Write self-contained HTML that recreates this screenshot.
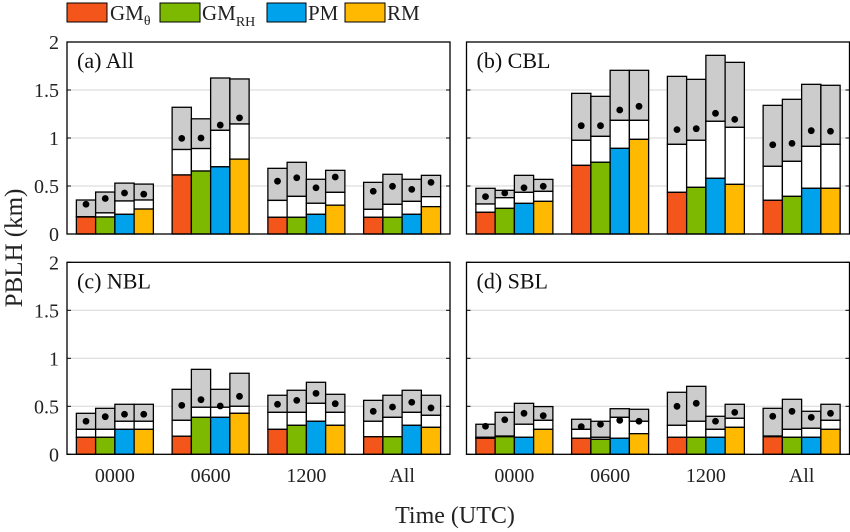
<!DOCTYPE html>
<html><head><meta charset="utf-8">
<style>
html,body{margin:0;padding:0;background:#fff;}
svg{display:block;font-family:"Liberation Serif",serif;}
</style></head>
<body>
<svg id="chart" width="850" height="532" viewBox="0 0 850 532" xmlns="http://www.w3.org/2000/svg">
  <g id="legend">
    <g>
      <rect x="67" y="3" width="40" height="19" fill="#F4551A" stroke="#000" stroke-width="1"/>
      <text x="110" y="20" font-size="21" fill="#222">GM<tspan font-size="14" dy="5">θ</tspan></text>
    </g>
    <g>
      <rect x="160" y="3" width="40" height="19" fill="#7DB900" stroke="#000" stroke-width="1"/>
      <text x="202" y="20" font-size="21" fill="#222">GM<tspan font-size="14" dy="6">RH</tspan></text>
    </g>
    <g>
      <rect x="267" y="3" width="39" height="19" fill="#00A2EC" stroke="#000" stroke-width="1"/>
      <text x="308" y="20" font-size="21" fill="#222">PM</text>
    </g>
    <g>
      <rect x="345" y="3" width="40" height="19" fill="#FFB900" stroke="#000" stroke-width="1"/>
      <text x="387" y="20" font-size="21" fill="#222">RM</text>
    </g>
  </g>
  <text transform="translate(22,248) rotate(-90)" text-anchor="middle" font-size="25" fill="#222">PBLH (km)</text>
  <text x="455" y="523" text-anchor="middle" font-size="24" fill="#222">Time (UTC)</text>
  <g id="panels"></g>
</svg>
<script>
// categories
const groups = ["0000", "0600", "1200", "All"];
const methods = ["GMθ", "GMRH", "PM", "RM"];
const yTicks = [0, 0.5, 1, 1.5, 2];
const yTickLabels = ["0", "0.5", "1", "1.5", "2"];
const panelTitles = ["(a) All", "(b) CBL", "(c) NBL", "(d) SBL"];

// (a) All — order: group-major, 4 methods per group
const aLow  = [0.177,0.177,0.205,0.26, 0.615,0.656,0.70,0.78, 0.174,0.174,0.205,0.30, 0.174,0.174,0.205,0.285];
const aMid  = [0.18,0.22,0.344,0.354, 0.88,0.89,1.08,1.146, 0.35,0.392,0.32,0.434, 0.257,0.309,0.34,0.389];
const aHigh = [0.354,0.437,0.53,0.52, 1.32,1.20,1.625,1.615, 0.684,0.747,0.57,0.663, 0.538,0.622,0.57,0.611];
const aMean = [0.31,0.37,0.427,0.415, 0.996,1.0,1.135,1.21, 0.55,0.586,0.482,0.594, 0.445,0.497,0.465,0.538];
// (b) CBL
const bLow  = [0.226,0.267,0.319,0.34, 0.715,0.747,0.892,0.986, 0.434,0.486,0.58,0.517, 0.351,0.392,0.476,0.476];
const bMid  = [0.3125,0.378,0.434,0.444, 0.976,1.017,1.184,1.184, 0.934,0.976,1.174,1.111, 0.705,0.757,0.913,0.934];
const bHigh = [0.476,0.455,0.611,0.569, 1.465,1.434,1.705,1.705, 1.642,1.611,1.861,1.788, 1.34,1.403,1.559,1.549];
const bMean = [0.389,0.427,0.482,0.497, 1.128,1.128,1.292,1.33, 1.087,1.097,1.257,1.194, 0.93,0.944,1.076,1.07];
// (c) NBL
const cLow  = [0.177,0.177,0.26,0.26, 0.188,0.385,0.385,0.427, 0.26,0.302,0.344,0.302, 0.183,0.183,0.302,0.281];
const cMid  = [0.26,0.26,0.344,0.344, 0.354,0.49,0.49,0.50, 0.437,0.437,0.531,0.437, 0.344,0.385,0.437,0.406];
const cHigh = [0.427,0.479,0.521,0.521, 0.677,0.885,0.677,0.844, 0.615,0.667,0.75,0.625, 0.562,0.615,0.667,0.615];
const cMean = [0.344,0.392,0.417,0.417, 0.51,0.569,0.503,0.604, 0.521,0.562,0.635,0.527, 0.448,0.493,0.542,0.483];
// (d) SBL
const dLow  = [0.167,0.183,0.177,0.26, 0.167,0.156,0.167,0.215, 0.177,0.177,0.177,0.281, 0.183,0.177,0.177,0.26];
const dMid  = [0.177,0.19,0.313,0.354, 0.26,0.177,0.385,0.344, 0.302,0.344,0.26,0.375, 0.19,0.26,0.271,0.354];
const dHigh = [0.313,0.437,0.531,0.497, 0.365,0.344,0.475,0.469, 0.646,0.708,0.396,0.521, 0.479,0.573,0.448,0.521];
const dMean = [0.292,0.36,0.427,0.402, 0.288,0.313,0.354,0.344, 0.5,0.531,0.344,0.437, 0.396,0.448,0.385,0.427];

const lowSets = [aLow, bLow, cLow, dLow];
const midSets = [aMid, bMid, cMid, dMid];
const highSets = [aHigh, bHigh, cHigh, dHigh];
const meanSets = [aMean, bMean, cMean, dMean];

const colors = ["#F4551A", "#7DB900", "#00A2EC", "#FFB900"];
const NS = "http://www.w3.org/2000/svg";
const root = document.getElementById("panels");
const PW = 383, PH = 192;
const boxes = [[67, 42], [466.5, 42], [67, 262.3], [466.5, 262.3]];
const names = ["all", "cbl", "nbl", "sbl"];

function mk(tag, attrs, parent) {
  const e = document.createElementNS(NS, tag);
  for (const k in attrs) e.setAttribute(k, attrs[k]);
  parent.appendChild(e);
  return e;
}

for (let p = 0; p < 4; p++) {
  const [x0, y0] = boxes[p];
  const yScale = v => y0 + PH - v / 2 * PH;
  const gw = PW / groups.length;
  const bw = 19.25;
  const xGroup = g => x0 + gw * (g + 0.5);
  const g = mk("g", {}, root);
  
  
  mk("rect", {x: x0, y: y0, width: PW, height: PH, fill: "#fff"}, g);
  yTicks.forEach((t, i) => {
    if (t > 0 && t < 2) {
      const gl = mk("line", {x1: x0, x2: x0 + PW, y1: yScale(t), y2: yScale(t), stroke: "#d6d6d6", "stroke-width": 1}, g);
      
      
    }
    mk("line", {x1: x0, x2: x0 + 4, y1: yScale(t), y2: yScale(t), stroke: "#000", "stroke-width": 1}, g);
    mk("line", {x1: x0 + PW - 4, x2: x0 + PW, y1: yScale(t), y2: yScale(t), stroke: "#000", "stroke-width": 1}, g);
    if (p % 2 === 0) {
      const tl = mk("text", {x: 59, y: yScale(t) + 7, "text-anchor": "end", "font-size": 20, fill: "#222"}, g);
      tl.textContent = yTickLabels[i];
      
      
    }
  });
  const low = lowSets[p], mid = midSets[p], high = highSets[p], mean = meanSets[p];
  for (let gi = 0; gi < groups.length; gi++) {
    for (let m = 0; m < methods.length; m++) {
      const idx = gi * methods.length + m;
      const bx = xGroup(gi) - 2 * bw + m * bw;
      const yb = yScale(0);
      const g1 = mk("g", {}, g);
      
      
      mk("rect", {x: bx, y: yScale(high[idx]), width: bw, height: yScale(mid[idx]) - yScale(high[idx]), fill: "#cccccc", stroke: "#000", "stroke-width": 1.3}, g1);
      mk("rect", {x: bx, y: yScale(mid[idx]), width: bw, height: yScale(low[idx]) - yScale(mid[idx]), fill: "#fff", stroke: "#000", "stroke-width": 1.3}, g1);
      mk("rect", {x: bx, y: yScale(low[idx]), width: bw, height: yb - yScale(low[idx]), fill: colors[m], stroke: "#000", "stroke-width": 1.3}, g1);
      const dot = mk("circle", {cx: bx + bw / 2, cy: yScale(mean[idx]), r: 3.4, fill: "#000"}, g1);
      
      
    }
    if (p >= 2) {
      const xl = mk("text", {x: xGroup(gi), y: 482, "text-anchor": "middle", "font-size": 20, fill: "#222"}, g);
      xl.textContent = groups[gi];
      
      
    }
  }
  mk("rect", {x: x0, y: y0, width: PW, height: PH, fill: "none", stroke: "#000", "stroke-width": 1.3}, g);
  const tt = mk("text", {x: x0 + 10, y: y0 + 26, "font-size": 22, fill: "#111"}, g);
  tt.textContent = panelTitles[p];
  
  
}
</script>
</body></html>
